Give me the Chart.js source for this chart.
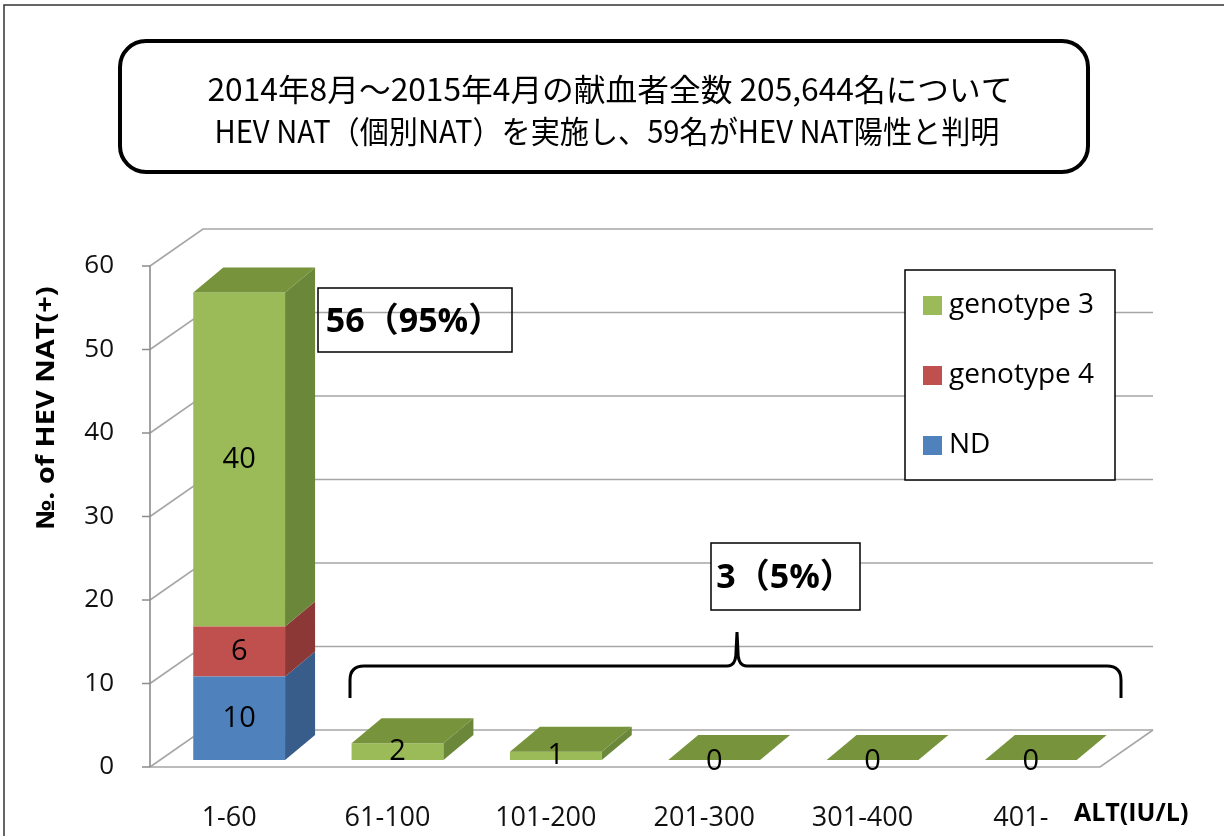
<!DOCTYPE html>
<html>
<head>
<meta charset="utf-8">
<script src="https://cdn.jsdelivr.net/npm/chart.js@4.4.1/dist/chart.umd.min.js"></script>
<style>
  html, body { margin: 0; padding: 0; background: #fff; }
  #wrap { width: 1224px; height: 836px; position: relative; }
</style>
</head>
<body>
<div id="wrap"><canvas id="hevChart" width="1224" height="836"></canvas></div>
<script>
// data
const categories = ['1-60', '61-100', '101-200', '201-300', '301-400', '401-'];
const ndValues = [10, 0, 0, 0, 0, 0];
const g4Values = [6, 0, 0, 0, 0, 0];
const g3Values = [40, 2, 1, 0, 0, 0];
const yMax = 60;
const yStep = 10;

// texts
const titleLines = [
    '2014年8月～2015年4月の献血者全数 205,644名について',
    'HEV NAT（個別NAT）を実施し、59名がHEV NAT陽性と判明'
];
const yTitle = '№. of HEV NAT(+)';
const xTitle = 'ALT(IU/L)';
const calloutMain = '56（95%）';
const calloutRest = '3（5%）';

// 3d look: wall depth, bar offset into the floor, bar depth
const WALL = { dx: 53, dy: -37 };
const BAR_OFF = { dx: 10, dy: -7 };
const BAR_DEPTH = { dx: 30, dy: -25 };

const LATIN = '"Open Sans", "Noto Sans CJK JP", sans-serif';
const CJK = '"Noto Sans CJK JP", sans-serif';

function fitText(ctx, text, cx, cy, width, font, angle) {
    ctx.save();
    ctx.font = font;
    const m = ctx.measureText(text).width;
    ctx.translate(cx, cy);
    if (angle) ctx.rotate(angle);
    ctx.scale(width / m, 1);
    ctx.textAlign = 'center';
    ctx.textBaseline = 'middle';
    ctx.fillText(text, 0, 0);
    ctx.restore();
}

function roundBox(ctx, x, y, w, h, r) {
    ctx.beginPath();
    ctx.moveTo(x + r, y);
    ctx.arcTo(x + w, y, x + w, y + h, r);
    ctx.arcTo(x + w, y + h, x, y + h, r);
    ctx.arcTo(x, y + h, x, y, r);
    ctx.arcTo(x, y, x + w, y, r);
    ctx.closePath();
}

const frame3d = {
    id: 'frame3d',
    beforeDatasetsDraw(chart) {
        const { ctx, chartArea: a, scales: { y } } = chart;
        ctx.save();
        ctx.strokeStyle = '#A6A6A6';
        ctx.lineWidth = 1.6;
        // back wall + left wall grid
        for (let v = 0; v <= yMax; v += yStep) {
            const yf = y.getPixelForValue(v);
            ctx.beginPath();
            ctx.moveTo(a.left, yf);
            ctx.lineTo(a.left + WALL.dx, yf + WALL.dy);
            ctx.lineTo(a.right + WALL.dx, yf + WALL.dy);
            ctx.stroke();
        }
        // floor front + right edge
        ctx.beginPath();
        ctx.moveTo(a.left, a.bottom);
        ctx.lineTo(a.right, a.bottom);
        ctx.lineTo(a.right + WALL.dx, a.bottom + WALL.dy);
        ctx.stroke();
        // axis line + tick marks
        ctx.strokeStyle = '#8C8C8C';
        ctx.beginPath();
        ctx.moveTo(a.left, a.top);
        ctx.lineTo(a.left, a.bottom);
        for (let v = 0; v <= yMax; v += yStep) {
            const yf = y.getPixelForValue(v);
            ctx.moveTo(a.left - 8, yf);
            ctx.lineTo(a.left, yf);
        }
        ctx.stroke();
        ctx.restore();

        // front faces are drawn by chart.js, shifted into the floor
        ctx.save();
        ctx.translate(BAR_OFF.dx, BAR_OFF.dy);
    },
    afterDatasetsDraw(chart) {
        const { ctx, data } = chart;
        ctx.restore();
        const last = data.datasets.length - 1;

        data.datasets.forEach((ds, i) => {
            const meta = chart.getDatasetMeta(i);
            meta.data.forEach((el, j) => {
                const p = el.getProps(['x', 'y', 'base', 'width'], true);
                const L = p.x - p.width / 2 + BAR_OFF.dx;
                const R = p.x + p.width / 2 + BAR_OFF.dx;
                const top = Math.min(p.y, p.base) + BAR_OFF.dy;
                const bot = Math.max(p.y, p.base) + BAR_OFF.dy;
                if (bot - top > 0.5) {
                    ctx.fillStyle = ds.sideColor;
                    ctx.beginPath();
                    ctx.moveTo(R, top);
                    ctx.lineTo(R + BAR_DEPTH.dx, top + BAR_DEPTH.dy);
                    ctx.lineTo(R + BAR_DEPTH.dx, bot + BAR_DEPTH.dy);
                    ctx.lineTo(R, bot);
                    ctx.closePath();
                    ctx.fill();
                }
                if (i === last) {
                    ctx.fillStyle = ds.topColor;
                    ctx.beginPath();
                    ctx.moveTo(L, top);
                    ctx.lineTo(R, top);
                    ctx.lineTo(R + BAR_DEPTH.dx, top + BAR_DEPTH.dy);
                    ctx.lineTo(L + BAR_DEPTH.dx, top + BAR_DEPTH.dy);
                    ctx.closePath();
                    ctx.fill();
                }
            });
        });

        // value labels
        ctx.save();
        ctx.fillStyle = '#000';
        ctx.font = '29px ' + LATIN;
        ctx.textAlign = 'center';
        ctx.textBaseline = 'middle';
        data.datasets.forEach((ds, i) => {
            const meta = chart.getDatasetMeta(i);
            meta.data.forEach((el, j) => {
                const v = ds.data[j];
                if (v <= 0 && i !== last) return;
                const p = el.getProps(['x', 'y', 'base'], true);
                const ly = v > 0 ? (p.y + p.base) / 2 + BAR_OFF.dy : p.base + BAR_OFF.dy + 2;
                ctx.fillText(String(v), p.x + BAR_OFF.dx, ly);
            });
        });
        ctx.restore();
    },
    afterDraw(chart) {
        const { ctx, data } = chart;
        ctx.save();

        // outer frame
        ctx.strokeStyle = '#333';
        ctx.lineWidth = 1.5;
        ctx.beginPath();
        ctx.moveTo(4, 836);
        ctx.lineTo(4, 5);
        ctx.lineTo(1224, 5);
        ctx.stroke();

        // title box
        ctx.strokeStyle = '#000';
        ctx.lineWidth = 4;
        roundBox(ctx, 120, 41, 968, 131, 26);
        ctx.stroke();
        ctx.fillStyle = '#000';
        fitText(ctx, titleLines[0], 610, 89, 805, '31px ' + CJK);
        fitText(ctx, titleLines[1], 607, 131, 785, '31px ' + CJK);

        // y title
        fitText(ctx, yTitle, 47, 408, 243, 'bold 25px ' + LATIN, -Math.PI / 2);

        // x title
        ctx.font = 'bold 25px ' + LATIN;
        ctx.textAlign = 'left';
        ctx.textBaseline = 'middle';
        ctx.fillText(xTitle, 1074, 814);

        // legend
        ctx.fillStyle = '#fff';
        ctx.fillRect(905, 270, 210, 210);
        ctx.strokeStyle = '#000';
        ctx.lineWidth = 1.5;
        ctx.strokeRect(905, 270, 210, 210);
        const items = [...data.datasets].reverse();
        ctx.font = '28px ' + LATIN;
        items.forEach((ds, k) => {
            const cy = 305 + k * 70;
            ctx.fillStyle = ds.backgroundColor;
            ctx.fillRect(923, cy - 9, 19, 19);
            ctx.fillStyle = '#000';
            ctx.fillText(ds.label, 949, cy);
        });

        // callouts
        ctx.lineWidth = 1.5;
        ctx.strokeRect(318, 288, 194, 64);
        ctx.fillStyle = '#fff';
        ctx.fillRect(711, 543, 149, 67);
        ctx.strokeRect(711, 543, 149, 67);
        ctx.fillStyle = '#000';
        ctx.font = 'bold 34px ' + LATIN;
        ctx.textAlign = 'center';
        ctx.fillText(calloutMain, 414, 322);
        ctx.fillText(calloutRest, 785, 578);

        // brace over the small groups
        ctx.lineWidth = 3;
        ctx.beginPath();
        ctx.moveTo(350, 698);
        ctx.lineTo(350, 680);
        ctx.quadraticCurveTo(350, 666, 364, 666);
        ctx.lineTo(727, 666);
        ctx.quadraticCurveTo(736, 666, 736, 652);
        ctx.lineTo(737, 632);
        ctx.lineTo(738, 652);
        ctx.quadraticCurveTo(738, 666, 747, 666);
        ctx.lineTo(1107, 666);
        ctx.quadraticCurveTo(1121, 666, 1121, 680);
        ctx.lineTo(1121, 698);
        ctx.stroke();

        ctx.restore();
    }
};

const chart = new Chart(document.getElementById('hevChart'), {
    type: 'bar',
    data: {
        labels: categories,
        datasets: [
            { label: 'ND', data: ndValues, backgroundColor: '#4F81BD', sideColor: '#385D8A' },
            { label: 'genotype 4', data: g4Values, backgroundColor: '#C0504D', sideColor: '#8C3836' },
            { label: 'genotype 3', data: g3Values, backgroundColor: '#9BBB59', sideColor: '#6B8739', topColor: '#77933C' }
        ]
    },
    options: {
        responsive: false,
        animation: false,
        layout: { padding: { top: 266, right: 124, left: 0, bottom: 0 } },
        datasets: { bar: { categoryPercentage: 1, barPercentage: 0.58 } },
        plugins: {
            legend: { display: false },
            tooltip: { enabled: false }
        },
        scales: {
            x: {
                stacked: true,
                grid: { display: false },
                border: { display: false },
                ticks: { color: '#111', font: { family: LATIN, size: 27 }, padding: 27, maxRotation: 0 },
                afterFit(s) { s.height = 69; }
            },
            y: {
                stacked: true,
                min: 0,
                max: yMax,
                grid: { display: false },
                border: { display: false },
                ticks: { stepSize: yStep, color: '#111', font: { family: LATIN, size: 26 }, padding: 28 },
                afterFit(s) { s.width = 150; }
            }
        }
    },
    plugins: [frame3d]
});
</script>
</body>
</html>
